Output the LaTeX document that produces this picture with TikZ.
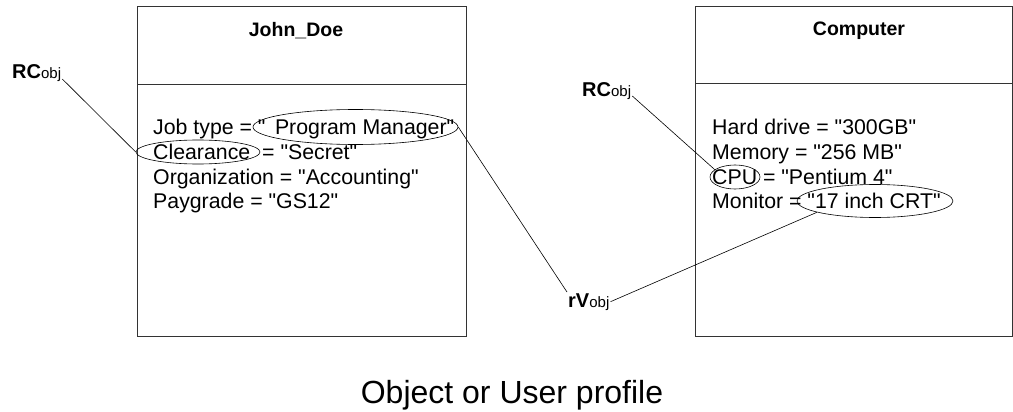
\documentclass[tikz,border=0pt]{standalone}
\usepackage{fontspec}
\setmainfont{Liberation Sans}[Ligatures=TeXOff]
\usetikzlibrary{shapes.geometric}
\tikzset{
  profile/.style={draw=black!80, line width=0.9pt},
  attr/.style={anchor=base west, inner sep=0pt, font=\fontsize{21.3}{25}\selectfont},
  headline/.style={font=\bfseries\fontsize{19.5}{23}\selectfont, inner sep=0pt},
  ring/.style={ellipse, draw, line width=0.6pt, inner sep=0pt},
  tag/.style={anchor=base west, inner sep=1pt, font=\fontsize{20}{24}\selectfont},
  link/.style={line width=0.6pt},
}
\newcommand{\rulelbl}[2]{\textbf{#1}{\fontsize{15}{17}\selectfont #2}}

\begin{document}
\begin{tikzpicture}[x=1pt,y=-1pt]
  \useasboundingbox (0,0) rectangle (1013,412);
  % user profile
  \draw[profile] (137,6) rectangle (466,336);
  \draw[profile] (137,84) -- (466,84);
  \node[headline] (jd) at (296,31) {John\_Doe};
  \foreach \txt [count=\i] in {Job type = " \,Program Manager", Clearance\hspace{6pt} = "Secret",
      Organization = "Accounting", Paygrade = "GS12"}
    \node[attr] (jd-\i) at (153,{135+24.6*(\i-1)}) {\txt};
  % object profile
  \draw[profile] (695,6) rectangle (1012,336);
  \draw[profile] (695,83) -- (1012,83);
  \node[headline] (pc) at (859,31) {Computer};
  \foreach \txt [count=\i] in {Hard drive = "300GB", Memory = "256 MB",
      CPU = "Pentium 4", Monitor = "17 inch CRT"}
    \node[attr] (pc-\i) at (712,{135+24.6*(\i-1)}) {\txt};
  % rings round the values
  \node[ring, minimum width=124, minimum height=24] (clr) at (198,152) {};
  \node[ring, minimum width=205, minimum height=35] (pm) at (355.5,127) {};
  \node[ring, minimum width=50, minimum height=24] (cpu) at (735,177) {};
  \node[ring, minimum width=156, minimum height=33] (mon) at (875,201) {};
  % labels
  \node[tag] (rcl) at (11,79) {\rulelbl{RC}{obj}};
  \node[tag] (rcr) at (581,96) {\rulelbl{RC}{obj}};
  \node[tag] (rv) at (567,307) {\rulelbl{rV}{obj}};
  \draw[link] (rcl.base east) -- (clr.west);
  \draw[link] (rcr.base east) -- (cpu.160);
  \draw[link] (pm.east) -- (rv.north west);
  \draw[link] (rv.east) -- (mon.191);
  \node[font=\fontsize{32}{38}\selectfont] (cap) at (512,395) {Object or User profile};
\end{tikzpicture}
\end{document}
